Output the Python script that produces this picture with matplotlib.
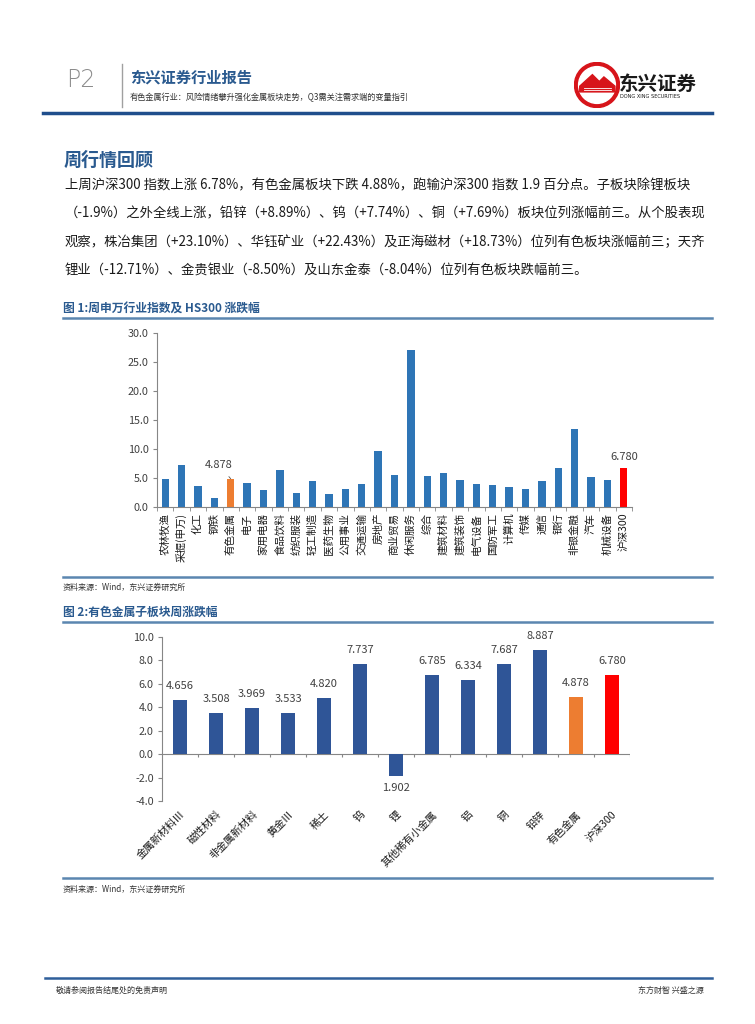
import numpy as np
import matplotlib.pyplot as plt
from matplotlib.patches import Circle, Polygon

plt.rcParams['font.family'] = ['Noto Sans CJK SC', 'DejaVu Sans']

W, H = 755, 1024

# 图1 数据
sw_names = ['农林牧渔', '采掘(申万)', '化工', '钢铁', '有色金属', '电子', '家用电器', '食品饮料',
            '纺织服装', '轻工制造', '医药生物', '公用事业', '交通运输', '房地产', '商业贸易',
            '休闲服务', '综合', '建筑材料', '建筑装饰', '电气设备', '国防军工', '计算机', '传媒',
            '通信', '银行', '非银金融', '汽车', '机械设备', '沪深300']
sw_values = [4.8, 7.2, 3.6, 1.5, 4.878, 4.2, 3.0, 6.4, 2.5, 4.4, 2.2, 3.1, 4.0, 9.6, 5.5,
             27.1, 5.4, 5.9, 4.7, 3.9, 3.8, 3.5, 3.1, 4.4, 6.7, 13.5, 5.1, 4.7, 6.78]
sw_ticks = [0, 5, 10, 15, 20, 25, 30]

# 图2 数据
sub_names = ['金属新材料Ⅲ', '磁性材料', '非金属新材料', '黄金Ⅲ', '稀土', '钨', '锂',
             '其他稀有小金属', '铝', '铜', '铅锌', '有色金属', '沪深300']
sub_values = [4.656, 3.508, 3.969, 3.533, 4.820, 7.737, -1.902, 6.785, 6.334, 7.687,
              8.887, 4.878, 6.780]
sub_ticks = [-4, -2, 0, 2, 4, 6, 8, 10]

para_lines = [
    '上周沪深300 指数上涨 6.78%，有色金属板块下跌 4.88%，跑输沪深300 指数 1.9 百分点。子板块除锂板块',
    '（-1.9%）之外全线上涨，铅锌（+8.89%）、钨（+7.74%）、铜（+7.69%）板块位列涨幅前三。从个股表现',
    '观察，株冶集团（+23.10%）、华钰矿业（+22.43%）及正海磁材（+18.73%）位列有色板块涨幅前三；天齐',
    '锂业（-12.71%）、金贵银业（-8.50%）及山东金泰（-8.04%）位列有色板块跌幅前三。',
]

BLUE1 = '#2E75B6'
BLUE2 = '#2F5597'
ORANGE = '#ED7D31'
RED = '#FF0000'
TITLE_BLUE = '#2A5A8F'
LINE_BLUE = '#5B86B0'
GRAY = '#404040'


def fx(x):
    return x / W


def fy(y):
    return 1 - y / H


def px_axes(fig, x0, y0, x1, y1):
    return fig.add_axes([fx(x0), fy(y1), (x1 - x0) / W, (y1 - y0) / H])


fig = plt.figure(figsize=(W / 100, H / 100), dpi=100)

# ---- 页眉 ----
fig.text(fx(66), fy(80), 'P2', fontsize=17, color='#8C8C8C', va='center', ha='left',
         family=['DejaVu Sans'], fontweight='light')
fig.add_artist(plt.Line2D([fx(122), fx(122)], [fy(64), fy(107)], color='#A0A0A0', lw=1))
fig.text(fx(130), fy(78), '东兴证券行业报告', fontsize=11, color=TITLE_BLUE,
         fontweight='bold', va='center', ha='left')
fig.text(fx(130), fy(97), '有色金属行业：风险情绪攀升强化金属板块走势，Q3需关注需求端的变量指引',
         fontsize=5.9, color='#333333', va='center', ha='left')
fig.add_artist(plt.Line2D([fx(43), fx(712)], [fy(113), fy(113)], color='#1F4E8C', lw=2.5))

# logo
lax = px_axes(fig, 574, 62, 620, 108)
lax.set_xlim(-1, 1)
lax.set_ylim(-1, 1)
lax.set_aspect('equal')
lax.axis('off')
lax.add_patch(Circle((0, 0), 0.98, color='#D7141A'))
lax.add_patch(Circle((0, 0), 0.80, color='white'))
lax.add_patch(Polygon([[-0.75, -0.05], [-0.2, 0.45], [0.1, 0.15], [0.3, 0.35], [0.78, -0.05],
                       [0.78, -0.3], [-0.75, -0.3]], closed=True, color='#D7141A'))
for yy in [-0.12, -0.2]:
    lax.plot([-0.55, 0.6], [yy, yy], color='white', lw=0.6)
fig.text(fx(619), fy(84), '东兴证券', fontsize=14, color='#1A1A1A', fontweight='bold',
         va='center', ha='left')
fig.text(fx(620), fy(97), 'DONG XING SECURITIES', fontsize=3.6, color='#1A1A1A',
         va='center', ha='left', family=['DejaVu Sans'])

# ---- 正文 ----
fig.text(fx(64), fy(160), '周行情回顾', fontsize=13, color=TITLE_BLUE, fontweight='bold',
         va='center', ha='left')
for i, line in enumerate(para_lines):
    fig.text(fx(65), fy(185 + i * 28.5), line, fontsize=9.6, color='#1A1A1A',
             va='center', ha='left')

# ---- 图1 ----
fig.text(fx(63), fy(309), '图 1:周申万行业指数及 HS300 涨跌幅', fontsize=8.5, color=TITLE_BLUE,
         fontweight='bold', va='center', ha='left')
fig.add_artist(plt.Line2D([fx(63), fx(712)], [fy(318), fy(318)], color=LINE_BLUE, lw=1.8))

ax1 = px_axes(fig, 157, 333, 632, 507)
x1 = np.arange(len(sw_names))
colors1 = [BLUE1] * len(sw_names)
colors1[sw_names.index('有色金属')] = ORANGE
colors1[-1] = RED
ax1.bar(x1, sw_values, width=0.45, color=colors1, zorder=2)
ax1.set_xlim(-0.5, len(sw_names) - 0.5)
ax1.set_ylim(0, 30)
ax1.set_yticks(sw_ticks)
ax1.set_yticklabels([f'{v:.1f}' for v in sw_ticks], fontsize=7.8, color=GRAY)
ax1.set_xticks(x1)
ax1.set_xticklabels(sw_names, rotation=90, fontsize=7.6, color='#1A1A1A', va='top')
ax1.tick_params(axis='x', length=0, pad=4)
ax1.set_xticks(np.arange(-0.5, len(sw_names), 1), minor=True)
ax1.tick_params(axis='x', which='minor', length=3, color='#868686', direction='out')
ax1.tick_params(axis='y', length=3, color='#868686', direction='out', pad=3)
for s in ['top', 'right']:
    ax1.spines[s].set_visible(False)
for s in ['left', 'bottom']:
    ax1.spines[s].set_color('#868686')
    ax1.spines[s].set_linewidth(0.8)
i_ys = sw_names.index('有色金属')
ax1.annotate(f'{sw_values[i_ys]:.3f}', xy=(i_ys, sw_values[i_ys]), xytext=(i_ys - 0.75, 7.3),
             fontsize=8, color=GRAY, ha='center', va='center',
             arrowprops=dict(arrowstyle='-', linestyle='--', color='#555555', lw=0.6,
                             shrinkA=4, shrinkB=0))
ax1.text(x1[-1], sw_values[-1] + 1.8, f'{sw_values[-1]:.3f}', fontsize=8, color=GRAY,
         ha='center', va='center')

fig.add_artist(plt.Line2D([fx(63), fx(712)], [fy(577), fy(577)], color=LINE_BLUE, lw=1.8))
fig.text(fx(63), fy(587), '资料来源：Wind，东兴证券研究所', fontsize=5.8, color='#333333',
         style='italic', va='center', ha='left')

# ---- 图2 ----
fig.text(fx(63), fy(612), '图 2:有色金属子板块周涨跌幅', fontsize=8.5, color=TITLE_BLUE,
         fontweight='bold', va='center', ha='left')
fig.add_artist(plt.Line2D([fx(63), fx(712)], [fy(622), fy(622)], color=LINE_BLUE, lw=1.8))

ax2 = px_axes(fig, 162, 637, 630, 801)
x2 = np.arange(len(sub_names))
colors2 = [BLUE2] * len(sub_names)
colors2[sub_names.index('有色金属')] = ORANGE
colors2[-1] = RED
ax2.bar(x2, sub_values, width=0.4, color=colors2, zorder=2)
ax2.set_xlim(-0.5, len(sub_names) - 0.5)
ax2.set_ylim(-4, 10)
ax2.set_yticks(sub_ticks)
ax2.set_yticklabels([f'{v:.1f}' for v in sub_ticks], fontsize=7.8, color=GRAY)
ax2.tick_params(axis='y', length=3, color='#868686', direction='out', pad=3)
ax2.set_xticks(x2)
ax2.set_xticklabels(sub_names, rotation=45, ha='right', rotation_mode='anchor',
                    fontsize=7.6, color='#1A1A1A')
ax2.tick_params(axis='x', length=0, pad=6)
for s in ['top', 'right', 'bottom']:
    ax2.spines[s].set_visible(False)
ax2.spines['left'].set_color('#868686')
ax2.spines['left'].set_linewidth(0.8)
ax2.axhline(0, color='#868686', lw=0.8, zorder=1)
ax2.vlines(np.arange(0.5, len(sub_names), 1), -0.25, 0, color='#868686', lw=0.8)
for xi, v in zip(x2, sub_values):
    if v >= 0:
        ax2.text(xi, v + 0.75, f'{v:.3f}', fontsize=8, color=GRAY, ha='center', va='bottom')
    else:
        ax2.text(xi, v - 0.55, f'{abs(v):.3f}', fontsize=8, color=GRAY, ha='center', va='top')

fig.add_artist(plt.Line2D([fx(63), fx(712)], [fy(878), fy(878)], color=LINE_BLUE, lw=1.8))
fig.text(fx(63), fy(889), '资料来源：Wind，东兴证券研究所', fontsize=5.8, color='#333333',
         style='italic', va='center', ha='left')

# ---- 页脚 ----
fig.add_artist(plt.Line2D([fx(45), fx(712)], [fy(978), fy(978)], color='#2F5F9A', lw=1.8))
fig.text(fx(56), fy(990), '敬请参阅报告结尾处的免责声明', fontsize=5.8, color='#333333',
         va='center', ha='left')
fig.text(fx(704), fy(990), '东方财智 兴盛之源', fontsize=5.8, color='#333333',
         va='center', ha='right')

fig.savefig('out.png', dpi=100)
